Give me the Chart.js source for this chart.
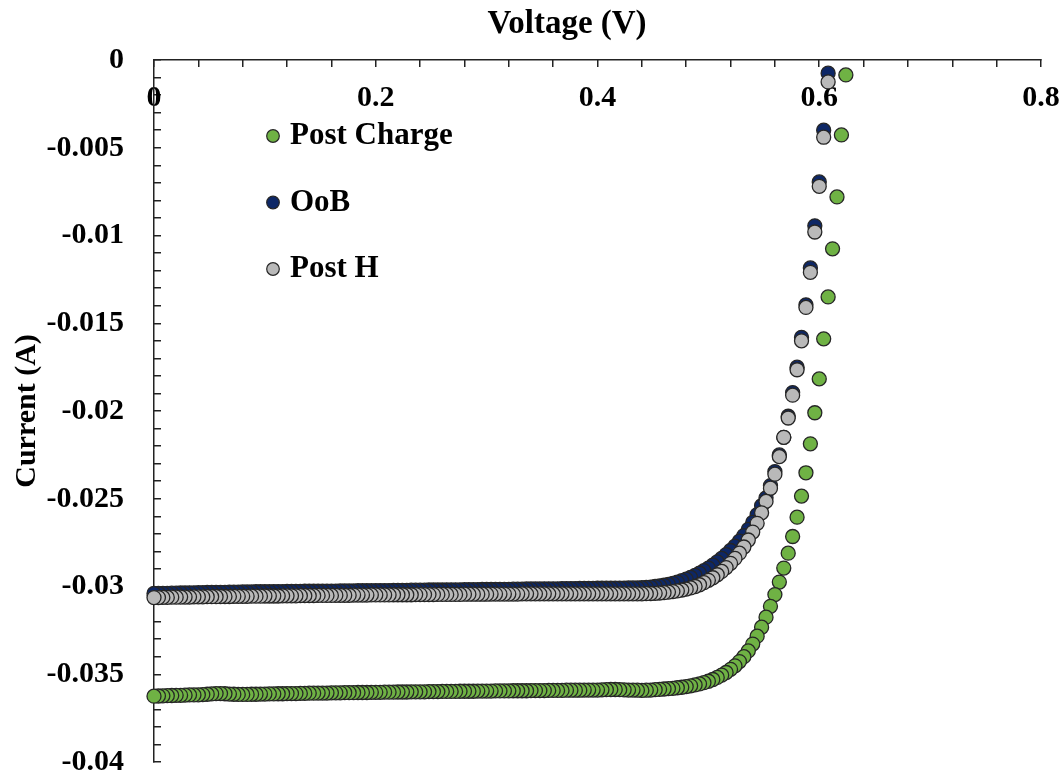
<!DOCTYPE html>
<html>
<head>
<meta charset="utf-8">
<script src="https://cdn.jsdelivr.net/npm/chart.js@4.4.1/dist/chart.umd.min.js"></script>
<style>
  html, body { margin: 0; padding: 0; background: #fff; }
</style>
</head>
<body>
<canvas id="chart" width="1064" height="773"></canvas>
<script>
// Sweep voltage (V), shared by all three curves
const voltage = [
  0, 0.004, 0.008, 0.012, 0.016, 0.02, 0.024, 0.028, 0.032, 0.036,
  0.04, 0.044, 0.048, 0.052, 0.056, 0.06, 0.064, 0.068, 0.072, 0.076,
  0.08, 0.084, 0.088, 0.092, 0.096, 0.1, 0.104, 0.108, 0.112, 0.116,
  0.12, 0.124, 0.128, 0.132, 0.136, 0.14, 0.144, 0.148, 0.152, 0.156,
  0.16, 0.164, 0.168, 0.172, 0.176, 0.18, 0.184, 0.188, 0.192, 0.196,
  0.2, 0.204, 0.208, 0.212, 0.216, 0.22, 0.224, 0.228, 0.232, 0.236,
  0.24, 0.244, 0.248, 0.252, 0.256, 0.26, 0.264, 0.268, 0.272, 0.276,
  0.28, 0.284, 0.288, 0.292, 0.296, 0.3, 0.304, 0.308, 0.312, 0.316,
  0.32, 0.324, 0.328, 0.332, 0.336, 0.34, 0.344, 0.348, 0.352, 0.356,
  0.36, 0.364, 0.368, 0.372, 0.376, 0.38, 0.384, 0.388, 0.392, 0.396,
  0.4, 0.404, 0.408, 0.412, 0.416, 0.42, 0.424, 0.428, 0.432, 0.436,
  0.44, 0.444, 0.448, 0.452, 0.456, 0.46, 0.464, 0.468, 0.472, 0.476,
  0.48, 0.484, 0.488, 0.492, 0.496, 0.5, 0.504, 0.508, 0.512, 0.516,
  0.52, 0.524, 0.528, 0.532, 0.536, 0.54, 0.544, 0.548, 0.552, 0.556,
  0.56, 0.564, 0.568, 0.572, 0.576, 0.58, 0.584, 0.588, 0.592, 0.596,
  0.6, 0.604, 0.608, 0.612, 0.616, 0.62, 0.624
];

// Current (A) for each curve, same index as voltage
const postCharge = [
  -0.03625, -0.03624, -0.03623, -0.03622, -0.03621, -0.0362, -0.0362, -0.03619, -0.03618, -0.03618,
  -0.03617, -0.03616, -0.03614, -0.03612, -0.0361, -0.0361, -0.03611, -0.03613, -0.03614, -0.03615,
  -0.03615, -0.03615, -0.03614, -0.03614, -0.03613, -0.03613, -0.03612, -0.03612, -0.03611, -0.03611,
  -0.0361, -0.0361, -0.0361, -0.03609, -0.03609, -0.03608, -0.03608, -0.03607, -0.03607, -0.03607,
  -0.03606, -0.03606, -0.03606, -0.03605, -0.03605, -0.03605, -0.03604, -0.03604, -0.03604, -0.03603,
  -0.03603, -0.03603, -0.03602, -0.03602, -0.03602, -0.03601, -0.03601, -0.03601, -0.036, -0.036,
  -0.036, -0.036, -0.03599, -0.03599, -0.03599, -0.03598, -0.03598, -0.03598, -0.03598, -0.03597,
  -0.03597, -0.03597, -0.03597, -0.03596, -0.03596, -0.03596, -0.03596, -0.03595, -0.03595, -0.03595,
  -0.03595, -0.03594, -0.03594, -0.03594, -0.03594, -0.03593, -0.03593, -0.03593, -0.03593, -0.03592,
  -0.03592, -0.03592, -0.03592, -0.03591, -0.03591, -0.03591, -0.03591, -0.0359, -0.0359, -0.0359,
  -0.0359, -0.03589, -0.03588, -0.03587, -0.03587, -0.03588, -0.03589, -0.0359, -0.0359, -0.03591,
  -0.03592, -0.03591, -0.0359, -0.03588, -0.03586, -0.03584, -0.03582, -0.0358, -0.03577, -0.03574,
  -0.0357, -0.03566, -0.03561, -0.03555, -0.03548, -0.0354, -0.0353, -0.03518, -0.03505, -0.0349,
  -0.03472, -0.03452, -0.03428, -0.034, -0.03367, -0.03328, -0.03283, -0.03232, -0.03175, -0.03113,
  -0.03046, -0.02975, -0.02895, -0.0281, -0.02715, -0.02605, -0.02485, -0.02352, -0.02187, -0.0201,
  -0.01817, -0.01589, -0.0135, -0.01076, -0.0078, -0.00427, -0.00085
];

const oob = [
  -0.0304, -0.0304, -0.03039, -0.03039, -0.03038, -0.03038, -0.03037, -0.03037, -0.03036, -0.03036,
  -0.03035, -0.03035, -0.03034, -0.03034, -0.03033, -0.03033, -0.03033, -0.03032, -0.03032, -0.03032,
  -0.03031, -0.03031, -0.03031, -0.0303, -0.0303, -0.0303, -0.0303, -0.03029, -0.03029, -0.03029,
  -0.03028, -0.03028, -0.03028, -0.03028, -0.03027, -0.03027, -0.03027, -0.03027, -0.03026, -0.03026,
  -0.03026, -0.03026, -0.03025, -0.03025, -0.03025, -0.03025, -0.03024, -0.03024, -0.03024, -0.03024,
  -0.03023, -0.03023, -0.03023, -0.03023, -0.03022, -0.03022, -0.03022, -0.03022, -0.03021, -0.03021,
  -0.03021, -0.03021, -0.0302, -0.0302, -0.0302, -0.0302, -0.03019, -0.03019, -0.03019, -0.03019,
  -0.03018, -0.03018, -0.03018, -0.03018, -0.03017, -0.03017, -0.03017, -0.03016, -0.03016, -0.03016,
  -0.03016, -0.03015, -0.03015, -0.03015, -0.03014, -0.03014, -0.03014, -0.03014, -0.03013, -0.03013,
  -0.03013, -0.03013, -0.03012, -0.03012, -0.03012, -0.03012, -0.03011, -0.03011, -0.03011, -0.03011,
  -0.0301, -0.0301, -0.0301, -0.0301, -0.03009, -0.03009, -0.03009, -0.03008, -0.03008, -0.03008,
  -0.03007, -0.03005, -0.03003, -0.03, -0.02997, -0.02993, -0.02988, -0.02982, -0.02975, -0.02967,
  -0.02958, -0.02948, -0.02937, -0.02924, -0.0291, -0.02895, -0.02878, -0.0286, -0.0284, -0.02818,
  -0.02795, -0.0277, -0.02742, -0.0271, -0.02675, -0.02635, -0.0259, -0.0254, -0.02495, -0.02425,
  -0.02345, -0.0225, -0.0215, -0.0203, -0.01895, -0.0175, -0.0158, -0.01395, -0.01185, -0.00945,
  -0.00695, -0.004, -0.00075
];

const postH = [
  -0.03063, -0.03063, -0.03062, -0.03062, -0.03061, -0.03061, -0.0306, -0.0306, -0.0306, -0.03059,
  -0.03059, -0.03059, -0.03058, -0.03058, -0.03058, -0.03057, -0.03057, -0.03057, -0.03056, -0.03056,
  -0.03056, -0.03056, -0.03055, -0.03055, -0.03055, -0.03054, -0.03054, -0.03054, -0.03054, -0.03053,
  -0.03053, -0.03053, -0.03053, -0.03052, -0.03052, -0.03052, -0.03052, -0.03051, -0.03051, -0.03051,
  -0.03051, -0.0305, -0.0305, -0.0305, -0.0305, -0.03049, -0.03049, -0.03049, -0.03049, -0.03048,
  -0.03048, -0.03048, -0.03048, -0.03048, -0.03047, -0.03047, -0.03047, -0.03047, -0.03047, -0.03046,
  -0.03046, -0.03046, -0.03046, -0.03046, -0.03045, -0.03045, -0.03045, -0.03045, -0.03045, -0.03045,
  -0.03044, -0.03044, -0.03044, -0.03044, -0.03044, -0.03044, -0.03043, -0.03043, -0.03043, -0.03043,
  -0.03043, -0.03043, -0.03043, -0.03042, -0.03042, -0.03042, -0.03042, -0.03042, -0.03042, -0.03042,
  -0.03042, -0.03042, -0.03042, -0.03042, -0.03042, -0.03042, -0.03042, -0.03042, -0.03042, -0.03042,
  -0.03042, -0.03042, -0.03042, -0.03042, -0.03042, -0.03042, -0.03042, -0.03042, -0.03042, -0.03042,
  -0.03042, -0.03041, -0.0304, -0.03039, -0.03037, -0.03035, -0.03032, -0.03029, -0.03025, -0.0302,
  -0.03015, -0.03008, -0.03, -0.0299, -0.02978, -0.02965, -0.0295, -0.02933, -0.02914, -0.02892,
  -0.02868, -0.0284, -0.0281, -0.02775, -0.02735, -0.0269, -0.0264, -0.0258, -0.02515, -0.0244,
  -0.0236, -0.0226, -0.0215, -0.0204, -0.0191, -0.01765, -0.016, -0.0141, -0.0121, -0.0098,
  -0.0072, -0.0044, -0.00125
];

const seriesNames = ['Post Charge', 'OoB', 'Post H'];
const seriesColors = ['#6fb244', '#0d2766', '#b9b9b9'];
const edgeColor = '#262626';
const xTitle = 'Voltage (V)';
const yTitle = 'Current (A)';

const serif = '"Liberation Serif", "Times New Roman", serif';

// the sweep runs from Voc down to 0 V, so the low-voltage points sit on top
function toPoints(current) {
  const pts = [];
  for (let i = current.length - 1; i >= 0; i--) {
    pts.push({ x: voltage[i], y: current[i] });
  }
  return pts;
}

function makeSet(idx, current, order) {
  return {
    label: seriesNames[idx],
    data: toPoints(current),
    order: order,
    pointRadius: 7,
    pointHoverRadius: 7,
    pointBorderWidth: 1.3,
    pointBackgroundColor: seriesColors[idx],
    pointBorderColor: edgeColor,
    showLine: false,
    clip: false
  };
}

// legend inside the plot + x axis title, drawn after the chart
const extras = {
  id: 'extras',
  afterDraw(chart) {
    const ctx = chart.ctx;
    ctx.save();
    ctx.fillStyle = '#000';
    ctx.textBaseline = 'middle';
    ctx.textAlign = 'center';
    ctx.font = 'bold 33px ' + serif;
    ctx.fillText(xTitle, 567, 24);

    ctx.textAlign = 'left';
    ctx.font = 'bold 31px ' + serif;
    seriesNames.forEach((name, i) => {
      const y = 136 + i * 66.5;
      ctx.beginPath();
      ctx.arc(273, y, 6.3, 0, Math.PI * 2);
      ctx.fillStyle = seriesColors[i];
      ctx.fill();
      ctx.lineWidth = 1.2;
      ctx.strokeStyle = edgeColor;
      ctx.stroke();
      ctx.fillStyle = '#000';
      ctx.fillText(name, 290, y);
    });
    ctx.restore();
  }
};

new Chart(document.getElementById('chart'), {
  type: 'scatter',
  data: {
    datasets: [
      makeSet(0, postCharge, 0),
      makeSet(1, oob, 2),
      makeSet(2, postH, 1)
    ]
  },
  options: {
    responsive: false,
    animation: false,
    events: [],
    layout: { padding: { top: 0, right: 23, bottom: 11, left: 0 } },
    plugins: {
      legend: { display: false },
      tooltip: { enabled: false }
    },
    scales: {
      x: {
        type: 'linear',
        position: 'top',
        min: 0,
        max: 0.8,
        afterFit(scale) {
          scale.height = 60;
          scale.paddingLeft = 0;
          scale.paddingRight = 0;
        },
        border: { color: '#222', width: 1.5 },
        grid: { drawOnChartArea: false, drawTicks: true, tickLength: -7, color: '#222', lineWidth: 1.5 },
        ticks: {
          stepSize: 0.04,
          autoSkip: false,
          maxRotation: 0,
          minRotation: 0,
          mirror: true,
          padding: 23,
          color: '#000',
          font: { family: serif, size: 30, weight: 'bold', lineHeight: 1 },
          callback: (v) => (Math.round(v * 100) % 20 === 0 ? String(Math.round(v * 10) / 10) : '')
        }
      },
      y: {
        type: 'linear',
        position: 'left',
        min: -0.04,
        max: 0,
        afterFit(scale) {
          scale.width = 154;
          scale.paddingTop = 0;
          scale.paddingBottom = 0;
        },
        border: { color: '#222', width: 1.5 },
        grid: { drawOnChartArea: false, drawTicks: true, tickLength: -7, color: '#222', lineWidth: 1.5 },
        title: {
          display: true,
          text: yTitle,
          color: '#000',
          padding: { top: 12, bottom: 0 },
          font: { family: serif, size: 30, weight: 'bold', lineHeight: 1 }
        },
        ticks: {
          stepSize: 0.001,
          maxTicksLimit: 100,
          autoSkip: false,
          padding: 37,
          color: '#000',
          font: { family: serif, size: 30, weight: 'bold', lineHeight: 1 },
          callback: (v) => (Math.round(v * 1000) % 5 === 0 ? String(Math.round(v * 1000) / 1000) : '')
        }
      }
    }
  },
  plugins: [extras]
});
</script>
</body>
</html>
